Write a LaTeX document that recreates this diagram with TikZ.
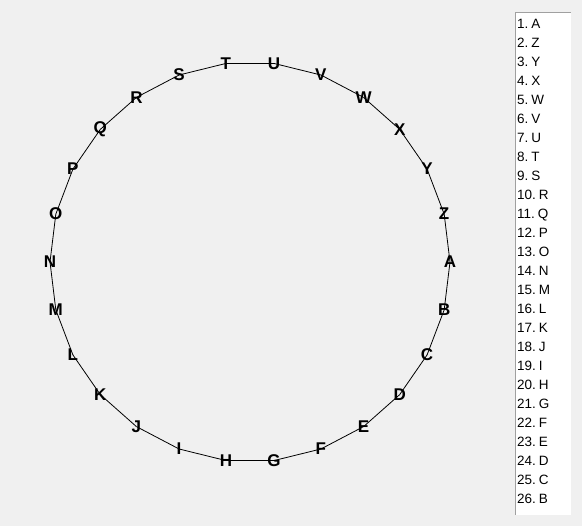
\documentclass[tikz,border=0pt]{standalone}
\usepackage{fontspec}
\setmainfont{Liberation Sans}
\usepackage{tikz}
\usetikzlibrary{positioning, calc}

\definecolor{panelgray}{HTML}{F0F0F0}
\definecolor{framegray}{HTML}{A0A0A0}

\begin{document}
\begin{tikzpicture}[
    x=1pt, y=-1pt,
    ring/.style={black, line width=0.8pt},
    letter/.style={font=\fontsize{17}{17}\selectfont\bfseries, inner sep=0pt},
    entry/.style={font=\fontsize{13.5}{15}\selectfont, inner sep=0pt, anchor=base west},
    listbox/.style={fill=white}
]

% background
\fill[panelgray] (0,0) rectangle (582,526);
\useasboundingbox (0,0) rectangle (582,526);

% ring of letters
\foreach \l [count=\i from 0] in {A,B,C,D,E,F,G,H,I,J,K,L,M,N,O,P,Q,R,S,T,U,V,W,X,Y,Z}
    \coordinate (p\i) at ($(250,262)+({200*cos(\i*360/26)},{200*sin(\i*360/26)})$);
\foreach \i [evaluate=\i as \j using {int(mod(\i+1,26))}] in {0,...,25}
    \draw[ring] (p\i) -- (p\j);
\foreach \l [count=\i from 0] in {A,B,C,D,E,F,G,H,I,J,K,L,M,N,O,P,Q,R,S,T,U,V,W,X,Y,Z}
    \node[letter] (l\i) at (p\i) {\l};

% list on the right
\fill[listbox] (515,13) rectangle (571,515);
\draw[framegray, line width=1pt] (515,515) -- (515,13) -- (571,13);
\foreach \l [count=\k] in {A,Z,Y,X,W,V,U,T,S,R,Q,P,O,N,M,L,K,J,I,H,G,F,E,D,C,B}
    \node[entry] (e\k) at (517,{28.5+19*(\k-1)}) {\k.\kern3pt\l};

\end{tikzpicture}
\end{document}
